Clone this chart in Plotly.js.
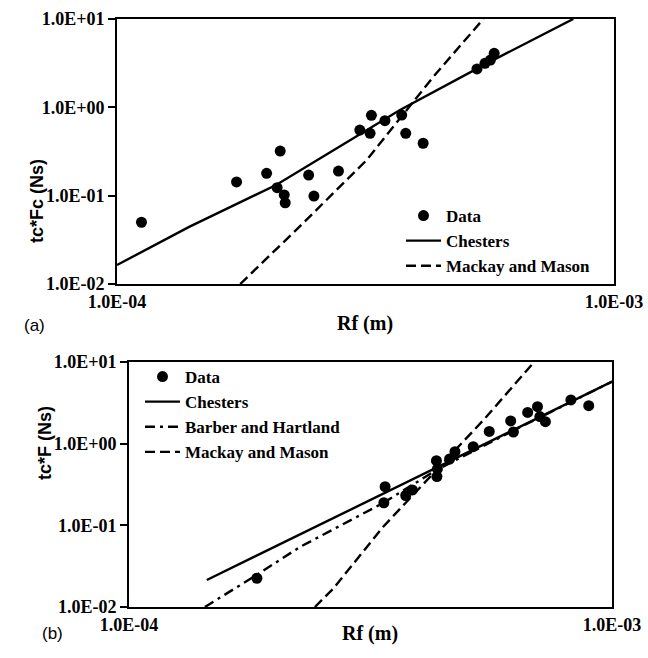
<!DOCTYPE html>
<html>
<head>
<meta charset="utf-8">
<script src="https://cdn.plot.ly/plotly-3.0.1.min.js"></script>
<style>
html,body{margin:0;padding:0;background:#fff;}
#chart{width:648px;height:658px;}
</style>
</head>
<body>
<div id="chart"></div>
<script>
// ---------- Panel (a) ----------
const rfA   = [1.12e-4, 1.74e-4, 2.00e-4, 2.13e-4, 2.10e-4, 2.17e-4, 2.18e-4, 2.43e-4, 2.49e-4, 2.79e-4,
               3.08e-4, 3.23e-4, 3.25e-4, 3.46e-4, 3.74e-4, 3.81e-4, 4.13e-4, 5.30e-4, 5.50e-4, 5.64e-4, 5.74e-4];
const tcFcA = [0.050, 0.143, 0.179, 0.320, 0.123, 0.102, 0.083, 0.171, 0.099, 0.190,
               0.553, 0.508, 0.813, 0.706, 0.818, 0.508, 0.392, 2.72, 3.15, 3.43, 4.09];
const chestersRfA = [1.0e-4, 1.40e-4, 2.09e-4, 3.13e-4, 3.71e-4, 5.55e-4, 8.28e-4];
const chestersA   = [0.0164, 0.0446, 0.132, 0.530, 0.933, 3.15, 10];
const mackayRfA = [1.77e-4, 2.33e-4, 3.18e-4, 4.33e-4, 5.46e-4];
const mackayA   = [0.01, 0.0446, 0.2535, 2.22, 10];

// ---------- Panel (b) ----------
const rfB  = [1.84e-4, 3.39e-4, 3.37e-4, 3.74e-4, 3.86e-4, 4.33e-4, 4.35e-4, 4.34e-4, 4.61e-4, 4.73e-4,
              5.16e-4, 5.57e-4, 6.17e-4, 6.25e-4, 6.69e-4, 7.01e-4, 7.09e-4, 7.28e-4, 8.22e-4, 8.95e-4];
const tcFB = [0.0225, 0.297, 0.189, 0.232, 0.271, 0.619, 0.490, 0.395, 0.649, 0.798,
              0.918, 1.41, 1.90, 1.39, 2.41, 2.84, 2.15, 1.86, 3.43, 2.92];
const chestersRfB = [1.449e-4, 1.0e-3];
const chestersB   = [0.0214, 5.74];
const barberRfB = [1.436e-4, 1.838e-4, 2.259e-4, 3.36e-4, 4.33e-4, 6.46e-4, 1.0e-3];
const barberB   = [0.01, 0.0247, 0.0543, 0.188, 0.476, 1.60, 5.74];
const mackayRfB = [2.426e-4, 2.65e-4, 3.36e-4, 4.27e-4, 5.42e-4, 6.90e-4];
const mackayB   = [0.01, 0.0169, 0.0962, 0.434, 1.95, 10];

// ---------- Tick labels ----------
const xTickVals = [1e-4, 1e-3];
const xTickText = ['1.0E-04', '1.0E-03'];
const yTickVals = [0.01, 0.1, 1, 10];
const yTickText = ['1.0E-02', '1.0E-01', '1.0E+00', '1.0E+01'];

const W = 648, H = 658;
const SERIF = 'Times New Roman';
const SANS = 'Arial';
const b = function (s) { return '<b>' + s + '</b>'; };

function lineTrace(x, y, name, dash, xa, ya, lg, rank) {
  return {x: x, y: y, name: b(name), type: 'scatter', mode: 'lines', xaxis: xa, yaxis: ya, legend: lg,
          legendrank: rank, line: {color: '#000', width: 2.4, dash: dash}, hoverinfo: 'skip'};
}
function dataTrace(x, y, xa, ya, lg) {
  return {x: x, y: y, name: b('Data'), type: 'scatter', mode: 'markers', xaxis: xa, yaxis: ya, legend: lg,
          legendrank: 1, marker: {color: '#000', size: 11, symbol: 'circle'}};
}

const traces = [
  lineTrace(chestersRfA, chestersA, 'Chesters', 'solid', 'x', 'y', 'legend', 2),
  lineTrace(mackayRfA, mackayA, 'Mackay and Mason', '10px,5px', 'x', 'y', 'legend', 4),
  dataTrace(rfA, tcFcA, 'x', 'y', 'legend'),
  lineTrace(chestersRfB, chestersB, 'Chesters', 'solid', 'x2', 'y2', 'legend2', 2),
  lineTrace(barberRfB, barberB, 'Barber and Hartland', '10px,5px,3px,5px', 'x2', 'y2', 'legend2', 3),
  lineTrace(mackayRfB, mackayB, 'Mackay and Mason', '10px,5px', 'x2', 'y2', 'legend2', 4),
  dataTrace(rfB, tcFB, 'x2', 'y2', 'legend2')
];

function xAxis(domain, anchor) {
  return {type: 'log', range: [-4, -3], domain: domain, anchor: anchor,
          tickvals: xTickVals, ticktext: xTickText.map(b), ticks: '', showgrid: false, zeroline: false,
          showline: true, mirror: true, linecolor: '#000', linewidth: 2,
          tickfont: {family: SERIF, size: 18, color: '#000'}};
}
function yAxis(domain, anchor) {
  return {type: 'log', range: [-2, 1], domain: domain, anchor: anchor,
          tickvals: yTickVals, ticktext: yTickText.map(b), ticks: 'outside', ticklen: 7, tickwidth: 2, tickcolor: '#000',
          showgrid: false, zeroline: false,
          showline: true, mirror: true, linecolor: '#000', linewidth: 2,
          tickfont: {family: SERIF, size: 18, color: '#000'}};
}

const layout = {
  width: W, height: H,
  margin: {l: 0, r: 0, t: 0, b: 0},
  paper_bgcolor: '#fff', plot_bgcolor: '#fff',
  font: {family: SERIF, color: '#000'},
  showlegend: true,
  xaxis: xAxis([117 / W, 614 / W], 'y'),
  yaxis: yAxis([1 - 284 / H, 1 - 19 / H], 'x'),
  xaxis2: xAxis([129 / W, 612 / W], 'y2'),
  yaxis2: yAxis([1 - 607 / H, 1 - 362 / H], 'x2'),
  legend: {x: 401 / W, y: 1 - 198 / H, xanchor: 'left', yanchor: 'top', bgcolor: 'rgba(0,0,0,0)',
           font: {family: SERIF, size: 17, color: '#000'}, itemwidth: 35, tracegroupgap: 0},
  legend2: {x: 140 / W, y: 1 - 359 / H, xanchor: 'left', yanchor: 'top', bgcolor: 'rgba(0,0,0,0)',
            font: {family: SERIF, size: 17, color: '#000'}, itemwidth: 35, tracegroupgap: 0},
  annotations: [
    {text: b('tc*Fc (Ns)'), x: 25 / W, y: 1 - 157 / H, xref: 'paper', yref: 'paper', showarrow: false,
     textangle: -90, font: {family: SANS, size: 18, color: '#000'}},
    {text: b('Rf (m)'), x: 365 / W, y: 1 - 323 / H, xref: 'paper', yref: 'paper', showarrow: false,
     font: {family: SERIF, size: 20, color: '#000'}},
    {text: '(a)', x: 22 / W, y: 1 - 325 / H, xref: 'paper', yref: 'paper', showarrow: false,
     font: {family: SANS, size: 17, color: '#000'}},
    {text: b('tc*F (Ns)'), x: 33 / W, y: 1 - 482 / H, xref: 'paper', yref: 'paper', showarrow: false,
     textangle: -90, font: {family: SANS, size: 18, color: '#000'}},
    {text: b('Rf (m)'), x: 370 / W, y: 1 - 647 / H, xref: 'paper', yref: 'paper', showarrow: false,
     font: {family: SERIF, size: 20, color: '#000'}},
    {text: '(b)', x: 40 / W, y: 1 - 645 / H, xref: 'paper', yref: 'paper', showarrow: false,
     font: {family: SANS, size: 17, color: '#000'}}
  ]
};

Plotly.newPlot('chart', traces, layout, {staticPlot: true, displayModeBar: false});
</script>
</body>
</html>
